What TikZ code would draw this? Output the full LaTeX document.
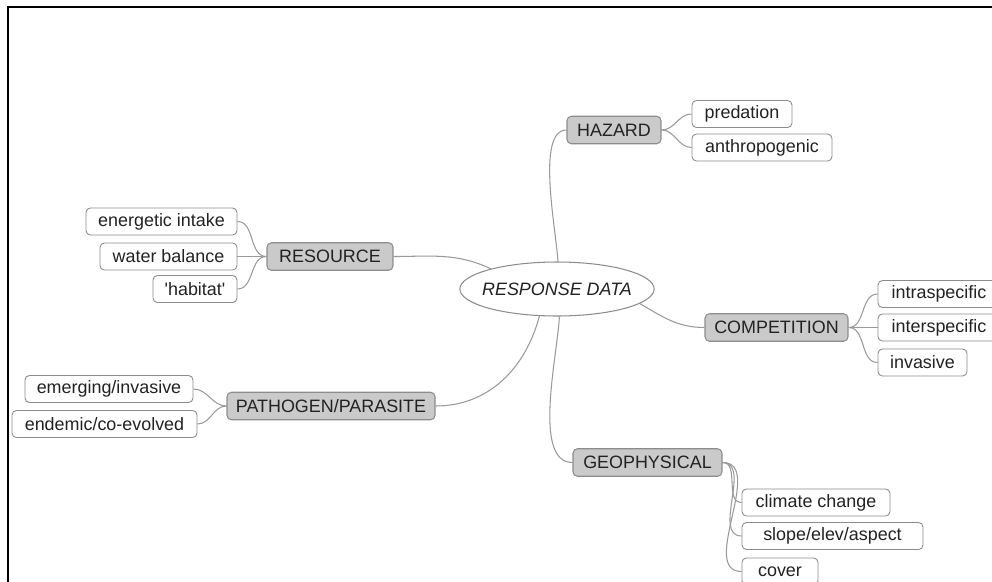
\documentclass[tikz,border=0pt]{standalone}
\usepackage{fontspec}
\setmainfont{Liberation Sans}
\usetikzlibrary{shapes.geometric}
\definecolor{boxgray}{HTML}{CACACA}
\definecolor{edgegray}{HTML}{8C8C8C}
\definecolor{linkgray}{HTML}{9A9A9A}
\definecolor{txtgray}{HTML}{222222}

\begin{document}
\begin{tikzpicture}[x=0.02cm,y=-0.02cm,
    every node/.style={font=\fontsize{10.2pt}{12pt}\selectfont,text=txtgray,inner sep=0pt},
    hub/.style={ellipse,draw=edgegray,fill=white,line width=0.6pt,
      inner xsep=-3.5pt,inner ysep=0pt,
      minimum width=3.72cm,minimum height=1.08cm,font=\fontsize{10.2pt}{12pt}\selectfont\itshape},
    branch/.style={rectangle,rounded corners=2.5pt,draw=edgegray,fill=boxgray,
      line width=0.6pt,minimum height=0.55cm},
    leaf/.style={rectangle,rounded corners=2.5pt,draw=edgegray,fill=white,
      line width=0.5pt,minimum height=0.54cm},
    link/.style={draw=linkgray,line width=0.6pt}]
  % page 992 x 582 px
  \useasboundingbox (0,0) rectangle (992,582);
  \clip (0,0) rectangle (992,582);
  \fill[white] (0,0) rectangle (992,582);
  \draw[line width=1.4pt] (8,582) -- (8,7) -- (992,7);

  % centre
  \node[hub] (data) at (557,289) {RESPONSE DATA};

  % main branches
  \node[branch,minimum width=1.88cm] (hazard) at (614,130) {HAZARD};
  \node[branch,minimum width=2.52cm] (resource) at (330,256.5) {RESOURCE};
  \node[branch,minimum width=4.16cm] (pathogen) at (331,406) {PATHOGEN/PARASITE};
  \node[branch,minimum width=2.86cm] (competition) at (776.5,327.5) {COMPETITION};
  \node[branch,minimum width=2.98cm] (geophys) at (647.5,462.5) {GEOPHYSICAL};

  % leaves: hazard
  \node[leaf,minimum width=2.00cm] (predation) at (742,114) {predation};
  \node[leaf,minimum width=2.80cm] (anthro) at (762,147.5) {anthropogenic};
  % leaves: resource
  \node[leaf,minimum width=3.02cm] (energy) at (161.5,221.5) {energetic intake};
  \node[leaf,minimum width=2.74cm] (water) at (168.5,256.5) {water balance};
  \node[leaf,minimum width=1.68cm] (habitat) at (195,289)
    {\textquotesingle habitat\textquotesingle};
  % leaves: pathogen
  \node[leaf,minimum width=3.36cm] (emerging) at (109,389) {emerging/invasive};
  \node[leaf,minimum width=3.70cm] (endemic) at (104.5,424) {endemic/co-evolved};
  % leaves: competition
  \node[leaf,minimum width=2.44cm] (intra) at (939,294) {intraspecific};
  \node[leaf,minimum width=2.44cm] (inter) at (939,327.5) {interspecific};
  \node[leaf,minimum width=1.78cm] (invasive) at (922.5,362.5) {invasive};
  % leaves: geophysical
  \node[leaf,minimum width=2.96cm] (climate) at (816,502.5) {climate change};
  \node[leaf,minimum width=3.62cm] (slope) at (832.5,536) {slope/elev/aspect};
  \node[leaf,minimum width=1.52cm] (cover) at (780,571.5) {cover};

  % centre to branches
  \path[link] (data.88) to[out=93,in=180,looseness=0.6] (hazard.west);
  \path[link] (data.163) to[out=155,in=0] (resource.east);
  \path[link] (data.237) to[out=-105,in=0] (pathogen.east);
  \path[link] (data.-10) to[out=-30,in=180] (competition.west);
  \path[link] (data.-85) to[out=-93,in=180,looseness=0.7] (geophys.west);

  % branches to leaves
  \foreach \lf in {predation,anthro}
    \path[link] (hazard.east) to[out=0,in=180] (\lf.west);
  \foreach \lf in {energy,water,habitat}
    \path[link] (resource.west) to[out=180,in=0] (\lf.east);
  \foreach \lf in {emerging,endemic}
    \path[link] (pathogen.west) to[out=180,in=0] (\lf.east);
  \foreach \lf in {intra,inter,invasive}
    \path[link] (competition.east) to[out=0,in=180] (\lf.west);
  \foreach \lf in {climate,slope,cover}
    \path[link] (geophys.east) to[out=0,in=180] (\lf.west);
\end{tikzpicture}
\end{document}
